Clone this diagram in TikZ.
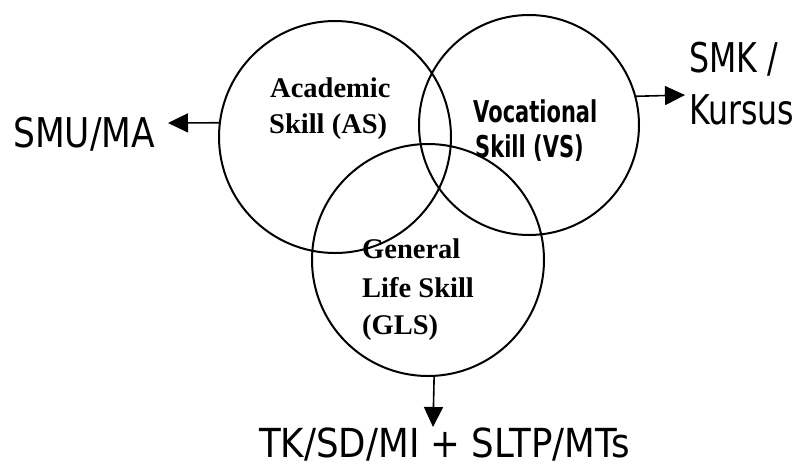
\documentclass[tikz,border=0pt]{standalone}
\usepackage{fontspec}
\usetikzlibrary{arrows.meta}
\newfontfamily\bigsans[FakeStretch=0.84]{DejaVu Sans}
\newfontfamily\bigsansn[FakeStretch=0.77]{DejaVu Sans}
\newfontfamily\bigsansw[FakeStretch=0.89]{DejaVu Sans}
\newfontfamily\vocsans[FakeStretch=0.7]{DejaVu Sans}
\newfontfamily\serifbold{Liberation Serif}
\begin{document}
\begin{tikzpicture}[x=1pt,y=-1pt,
 ring/.style={circle,draw,line width=2pt,inner sep=0pt,minimum size=#1},
 arr/.style={line width=1.6pt,-{Triangle[length=20pt,width=19pt]}},
 big/.style={inner sep=0pt,anchor=base west,font=\bigsans\fontsize{41}{50}\selectfont},
 bign/.style={big,font=\bigsansn\fontsize{41}{50}\selectfont},
 bigw/.style={big,font=\bigsansw\fontsize{40}{48}\selectfont},
 ser/.style={inner sep=0pt,anchor=base west,font=\serifbold\bfseries\fontsize{28.5}{34}\selectfont},
 voc/.style={inner sep=0pt,anchor=base west,font=\vocsans\bfseries\fontsize{30}{36}\selectfont}]
\useasboundingbox[fill=white] (0,0) rectangle (801,467);
\node[ring=232pt] (A) at (335,137) {};
\node[ring=220pt] (V) at (529,125) {};
\node[ring=232pt] (G) at (428,260) {};
% inner labels
\node[ser] (a1) at (270,97) {Academic};
\node[ser] (a2) at (269,133) {Skill (AS)};
\node[voc] (v1) at (473,122) {Vocational};
\node[voc] (v2) at (475,157) {Skill (VS)};
\node[ser] (g1) at (362,258) {General};
\node[ser] (g2) at (362,297) {Life Skill};
\node[ser] (g3) at (362,334) {(GLS)};
% outer labels
\node[big] (smu) at (13,147) {SMU/MA};
\node[bign] (smk) at (689,72) {SMK /};
\node[bign] (kur) at (689,124) {Kursus};
\node[bigw] (bot) at (259,457) {TK/SD/MI + SLTP/MTs};
% arrows
\coordinate (smuTip) at (168,123);
\coordinate (smkTip) at (685,95);
\coordinate (botTip) at (433,427);
\draw[arr] (A.173.1) -- (smuTip);
\draw[arr] (V.15.8) -- (smkTip);
\draw[arr] (G.-87.5) -- (botTip);
\end{tikzpicture}
\end{document}
